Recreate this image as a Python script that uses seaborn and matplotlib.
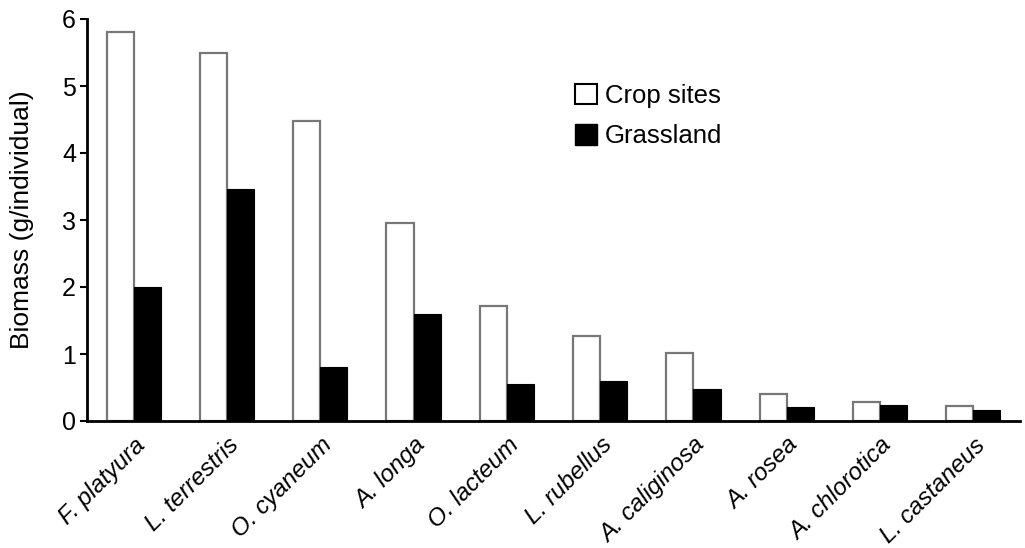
import matplotlib
matplotlib.use("Agg")
import matplotlib.pyplot as plt
import matplotlib.transforms as mtransforms
import seaborn as sns
import pandas as pd
from matplotlib.patches import Patch

species = ["F. platyura", "L. terrestris", "O. cyaneum", "A. longa", "O. lacteum",
           "L. rubellus", "A. caliginosa", "A. rosea", "A. chlorotica", "L. castaneus"]
crop_sites = [5.80, 5.49, 4.48, 2.96, 1.71, 1.27, 1.01, 0.41, 0.29, 0.22]
grassland = [2.00, 3.46, 0.81, 1.59, 0.55, 0.60, 0.48, 0.21, 0.24, 0.17]
series = ["Crop sites", "Grassland"]

df = pd.DataFrame({
    "species": species * 2,
    "site": [series[0]] * len(species) + [series[1]] * len(species),
    "biomass": crop_sites + grassland,
})

sns.set_theme(style="ticks")
plt.rcParams["font.family"] = ["Liberation Sans", "DejaVu Sans"]
plt.rcParams["text.color"] = "black"
plt.rcParams["axes.labelcolor"] = "black"
plt.rcParams["xtick.color"] = "black"
plt.rcParams["ytick.color"] = "black"

fig = plt.figure(figsize=(10.25, 5.48), dpi=100)
ax = fig.add_axes([87/1025, 1 - 421/548, (1020-87)/1025, (421-19)/548])

sns.barplot(data=df, x="species", y="biomass", hue="site", order=species,
            hue_order=series, palette={"Crop sites": "white", "Grassland": "black"},
            width=0.58, gap=0, ax=ax, legend=False, saturation=1)

for i, p in enumerate(ax.patches):
    if i < len(species):
        p.set_edgecolor("#777777")
        p.set_linewidth(1.6)
    else:
        p.set_edgecolor("black")
        p.set_linewidth(0.8)

ax.set_ylim(0, 6)
ax.set_xlim(-0.5, 9.5)
ax.set_yticks(range(7))
ax.tick_params(axis="y", labelsize=18, length=5, width=1.5, color="black",
               labelcolor="black", pad=3)
ax.tick_params(axis="x", length=0, pad=9, labelcolor="black")
ax.set_xticks(range(len(species)))
ax.set_xticklabels(species, rotation=45, ha="right", rotation_mode="anchor",
                   fontsize=17.5, style="italic")
ax.set_xlabel("")
ax.set_ylabel("Biomass (g/individual)", fontsize=19, color="black")
blend = mtransforms.blended_transform_factory(fig.transFigure, ax.transAxes)
ax.yaxis.set_label_coords(34/1025, 0.5, transform=blend)
sns.despine(ax=ax)
for s in ["left", "bottom"]:
    ax.spines[s].set_linewidth(2)
    ax.spines[s].set_color("black")

handles = [Patch(facecolor="white", edgecolor="black", linewidth=1.5),
           Patch(facecolor="black", edgecolor="black")]
leg = ax.legend(handles, series, loc="upper left",
                bbox_to_anchor=(575/1025, 1 - 84/548), bbox_transform=fig.transFigure,
                borderpad=0, borderaxespad=0,
                frameon=False, fontsize=18.5, handlelength=0.85, handleheight=0.85,
                handletextpad=0.3, labelspacing=0.62)
for t in leg.get_texts():
    t.set_color("black")

fig.savefig("out.png", dpi=100)
